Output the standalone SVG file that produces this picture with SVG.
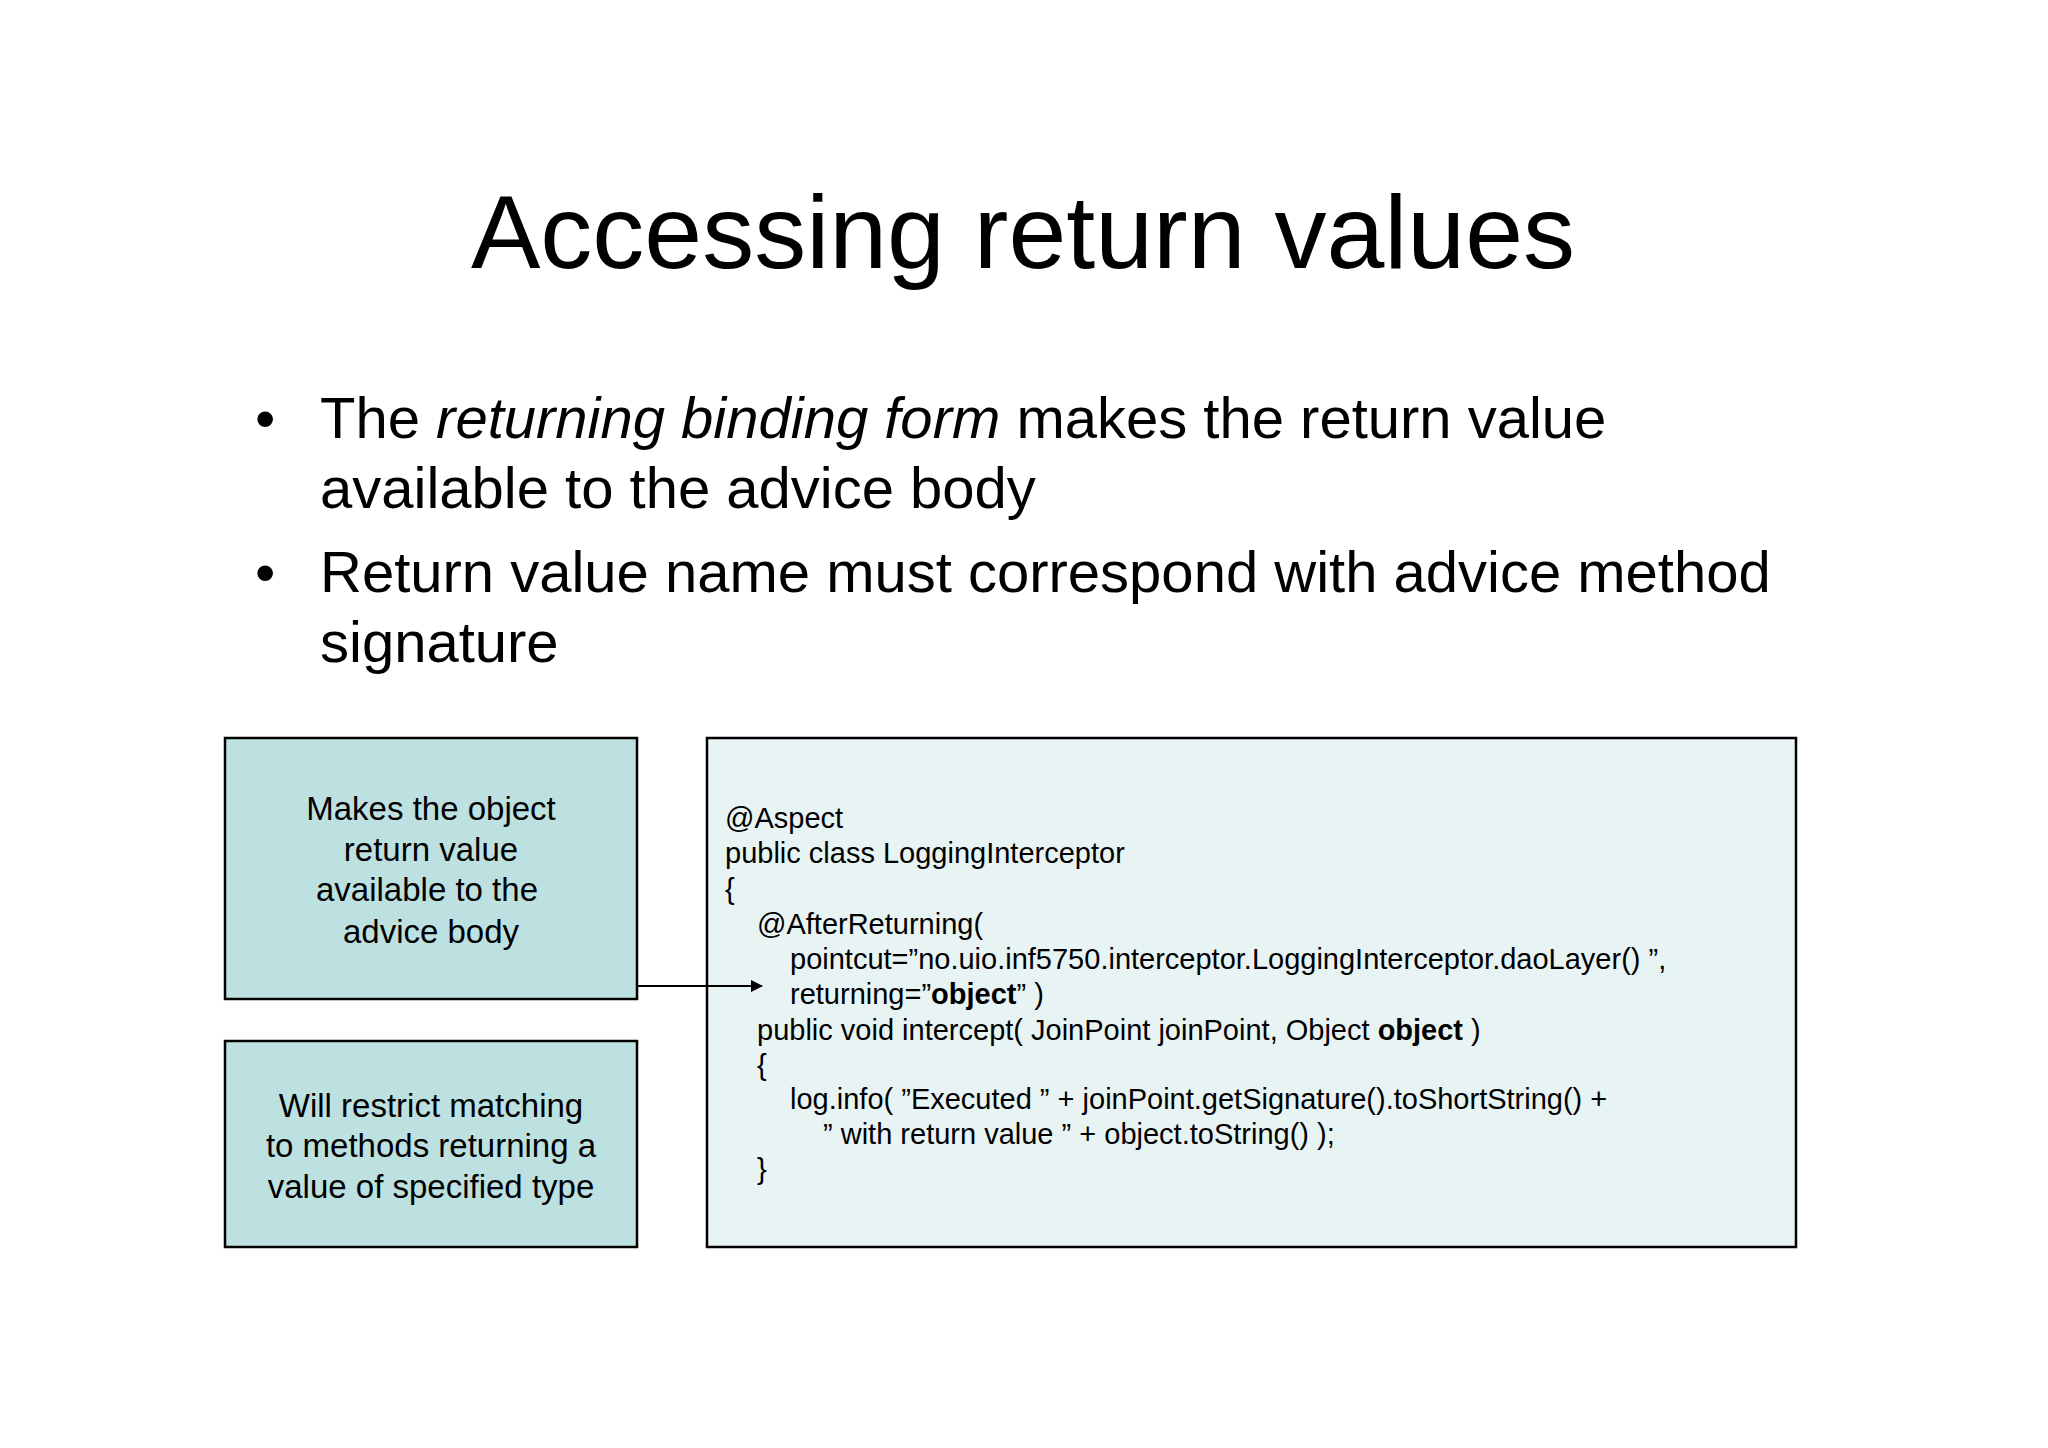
<svg xmlns="http://www.w3.org/2000/svg" width="2048" height="1448" viewBox="0 0 2048 1448">
<style>
text{font-family:"Liberation Sans",Arial,sans-serif;fill:#000}
.t{font-size:104px}
.b{font-size:58px}
.n{font-size:33px;text-anchor:middle}
.c{font-size:29px}
.box{stroke:#000;stroke-width:2.5}
</style>
<defs><marker id="ah" markerWidth="12" markerHeight="12" refX="11" refY="6" orient="auto" markerUnits="userSpaceOnUse"><path d="M0,0 L12,6 L0,12 z" fill="#000"/></marker></defs>
<rect width="2048" height="1448" fill="#fff"/>
<text class="t" x="1023" y="268" text-anchor="middle">Accessing return values</text>
<text class="b" x="255" y="438">•</text>
<text class="b" x="320" y="438">The <tspan font-style="italic">returning binding form</tspan> makes the return value</text>
<text class="b" x="320" y="508">available to the advice body</text>
<text class="b" x="255" y="592">•</text>
<text class="b" x="320" y="592">Return value name must correspond with advice method</text>
<text class="b" x="320" y="662">signature</text>
<g id="note1"><rect class="box" x="225" y="738" width="412" height="261" fill="#bde0e0"/>
<text class="n" x="431" y="820">Makes the object</text><text class="n" x="431" y="861">return value</text><text class="n" x="427" y="901">available to the</text><text class="n" x="431" y="943">advice body</text></g>
<g id="note2"><rect class="box" x="225" y="1041" width="412" height="206" fill="#bde0e0"/>
<text class="n" x="431" y="1117">Will restrict matching</text><text class="n" x="431" y="1157">to methods returning a</text><text class="n" x="431" y="1198">value of specified type</text></g>
<g id="code"><rect class="box" x="707" y="738" width="1089" height="509" fill="#e8f3f4"/>
<text class="c" x="725" y="828">@Aspect</text>
<text class="c" x="725" y="863">public class LoggingInterceptor</text>
<text class="c" x="725" y="899">{</text>
<text class="c" x="757" y="934">@AfterReturning(</text>
<text class="c" x="790" y="969">pointcut=”no.uio.inf5750.interceptor.LoggingInterceptor.daoLayer() ”,</text>
<text class="c" x="790" y="1004">returning=”<tspan font-weight="bold">object</tspan>” )</text>
<text class="c" x="757" y="1040">public void intercept( JoinPoint joinPoint, Object <tspan font-weight="bold">object</tspan> )</text>
<text class="c" x="757" y="1075">{</text>
<text class="c" x="790" y="1109">log.info( ”Executed ” + joinPoint.getSignature().toShortString() +</text>
<text class="c" x="823" y="1144">” with return value ” + object.toString() );</text>
<text class="c" x="757" y="1179">}</text></g>
<g id="connectors"><line x1="637" y1="986" x2="762" y2="986" stroke="#000" stroke-width="2" marker-end="url(#ah)"/></g>
</svg>
